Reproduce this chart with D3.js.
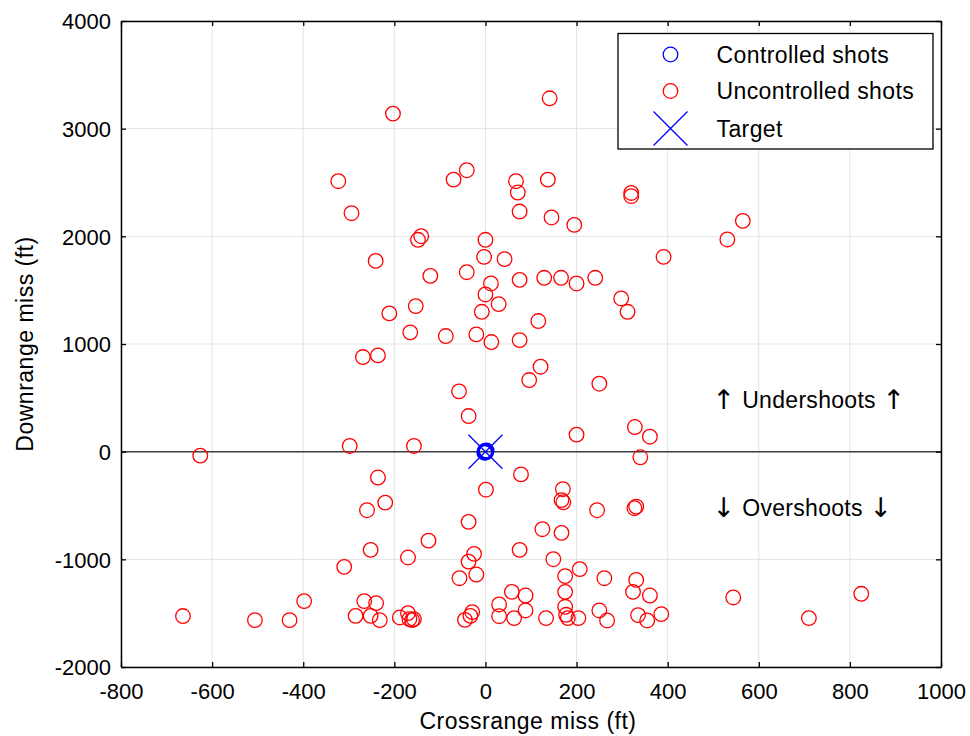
<!DOCTYPE html>
<html>
<head>
<meta charset="utf-8">
<script src="https://cdn.jsdelivr.net/npm/d3@7"></script>
<style>
  html, body { margin: 0; padding: 0; background: #fff; }
  svg { display: block; font-family: "Liberation Sans", Arial, sans-serif; }
</style>
</head>
<body>
<svg id="chart" width="970" height="736"></svg>
<script>
// ---- Data ----
const xTicks = [-800, -600, -400, -200, 0, 200, 400, 600, 800, 1000];
const yTicks = [-2000, -1000, 0, 1000, 2000, 3000, 4000];

const controlledX = [0, 2, -2, 1, -1];
const controlledY = [0, 8, -8, -5, 5];

const targetX = [0];
const targetY = [0];

const uncontrolledX = [
  -203, 141, -323, -294, -70, -41, 67, 71, 137, 75,
  145, 195, -148, -141, 0, 320, 320, 565, 531, -241,
  -121, -153, -211, -165, -269, -236, -626, -298, -157, -236,
  -3, 42, -41, 12, 0, 75, 129, 166, 200, 241,
  298, 312, 391, 29, -8, 116, -87, -20, 13, 75,
  121, 96, 250, -58, -37, 200, 328, 361, 340, 78,
  -220, -260, -125, -252, -170, -310, -398, -266, -240, -664,
  -506, -430, -285, -252, -232, -188, -170, -167, -161, -157,
  1, 170, 167, 171, 245, 331, 327, -37, 125, 167,
  75, 149, -25, -37, 207, -20, -57, 175, 261, 331,
  175, 58, 324, 361, 88, 30, -29, -33, -45, 88,
  175, 250, 30, 63, 133, 181, 177, 204, 267, 335,
  355, 386, 544, 710, 825
];
const uncontrolledY = [
  3140, 3282, 2512, 2215, 2527, 2614, 2512, 2407, 2527, 2230,
  2175, 2106, 1968, 2001, 1968, 2403, 2373, 2144, 1971, 1772,
  1633, 1352, 1284, 1108, 879, 894, -37, 53, 53, -240,
  1809, 1788, 1667, 1562, 1460, 1596, 1615, 1615, 1562, 1615,
  1423, 1299, 1809, 1370, 1299, 1213, 1074, 1089, 1018, 1036,
  789, 665, 631, 560, 331, 158, 229, 139, -52, -211,
  -473, -544, -826, -912, -983, -1070, -1388, -1388, -1407, -1527,
  -1565, -1565, -1525, -1525, -1565, -1540, -1500, -1555, -1565, -1555,
  -353, -349, -450, -470, -544, -510, -525, -652, -720, -754,
  -912, -999, -949, -1021, -1091, -1141, -1175, -1156, -1175, -1191,
  -1302, -1302, -1302, -1336, -1336, -1419, -1490, -1525, -1562, -1475,
  -1441, -1475, -1528, -1546, -1546, -1546, -1515, -1546, -1568, -1518,
  -1568, -1509, -1354, -1546, -1320
];

const legendLabels = ["Controlled shots", "Uncontrolled shots", "Target"];
const annotations = [
  { x: 503, y: 405, arrow: "\u2191", word: "Undershoots" },
  { x: 503, y: -594, arrow: "\u2193", word: "Overshoots" }
];

// ---- Layout ----
const L = 121, R = 941, T = 21, B = 667;
const svg = d3.select("#chart");
const x = d3.scaleLinear().domain([-800, 1000]).range([L, R]);
const y = d3.scaleLinear().domain([-2000, 4000]).range([B, T]);
const fmt = d => String(d);

// grid
const g = svg.append("g");
g.selectAll("line.gx").data(xTicks).join("line")
  .attr("x1", d => x(d)).attr("x2", d => x(d)).attr("y1", T).attr("y2", B)
  .attr("stroke", "#e3e3e3").attr("stroke-width", 1);
g.selectAll("line.gy").data(yTicks).join("line")
  .attr("y1", d => y(d)).attr("y2", d => y(d)).attr("x1", L).attr("x2", R)
  .attr("stroke", "#e3e3e3").attr("stroke-width", 1);

// zero line
svg.append("line")
  .attr("x1", L).attr("x2", R).attr("y1", y(0)).attr("y2", y(0))
  .attr("stroke", "#404040").attr("stroke-width", 1.5);

// axes (ticks inward)
const fs = "22px";
const axB = svg.append("g").attr("transform", `translate(0,${B})`)
  .call(d3.axisBottom(x).tickValues(xTicks).tickFormat(fmt).tickSizeInner(-5).tickSizeOuter(0));
const axT = svg.append("g").attr("transform", `translate(0,${T})`)
  .call(d3.axisTop(x).tickValues(xTicks).tickSizeInner(-5).tickSizeOuter(0).tickFormat(""));
const axLf = svg.append("g").attr("transform", `translate(${L},0)`)
  .call(d3.axisLeft(y).tickValues(yTicks).tickFormat(fmt).tickSizeInner(-5).tickSizeOuter(0).tickPadding(10));
const axRt = svg.append("g").attr("transform", `translate(${R},0)`)
  .call(d3.axisRight(y).tickValues(yTicks).tickSizeInner(-5).tickSizeOuter(0).tickFormat(""));
[axB, axT, axLf, axRt].forEach(a => {
  a.select(".domain").attr("stroke", "#000").attr("stroke-width", 1.5);
  a.selectAll(".tick line").attr("stroke", "#000").attr("stroke-width", 1.3);
  a.selectAll("text").attr("fill", "#000").style("font-size", fs)
    .style("font-family", "'Liberation Sans', Arial, sans-serif");
});
axB.selectAll("text").attr("dy", "0.71em").attr("y", 16);
axLf.selectAll("text").attr("dy", "0.36em");

// axis labels
svg.append("text").attr("x", (L + R) / 2 - 3).attr("y", 729)
  .attr("text-anchor", "middle").style("font-size", "23px").style("letter-spacing", "0.5px")
  .text("Crossrange miss (ft)");
svg.append("text").attr("transform", `translate(33,${(T + B) / 2}) rotate(-90)`)
  .attr("text-anchor", "middle").style("font-size", "23px").style("letter-spacing", "0.5px")
  .text("Downrange miss (ft)");

// annotations
const ann = svg.selectAll("text.ann").data(annotations).join("text")
  .attr("x", d => x(d.x) - 2).attr("y", d => y(d.y))
  .attr("fill", "#000")
  .style("font-size", "23px").style("letter-spacing", "0.3px");
ann.append("tspan").style("font-family", "'DejaVu Sans', sans-serif").style("font-size", "27px")
  .attr("fill", "#000").attr("dy", 1).text(d => d.arrow);
ann.append("tspan").attr("dy", -1).text(d => "\u00a0" + d.word + "\u00a0");
ann.append("tspan").style("font-family", "'DejaVu Sans', sans-serif").style("font-size", "27px")
  .attr("fill", "#000").attr("dy", 1).text(d => d.arrow);

// points
const unc = uncontrolledX.map((v, i) => [v, uncontrolledY[i]]);
svg.append("g").selectAll("circle").data(unc).join("circle")
  .attr("cx", d => x(d[0])).attr("cy", d => y(d[1])).attr("r", 7.3)
  .attr("fill", "none").attr("stroke", "#ff0000").attr("stroke-width", 1.3);

const ctl = controlledX.map((v, i) => [v, controlledY[i]]);
svg.append("g").selectAll("circle").data(ctl).join("circle")
  .attr("cx", d => x(d[0])).attr("cy", d => y(d[1])).attr("r", 7.3)
  .attr("fill", "none").attr("stroke", "#0000ff").attr("stroke-width", 1.8);

const tgt = targetX.map((v, i) => [v, targetY[i]]);
const xSize = 17;
const tg = svg.append("g").selectAll("g").data(tgt).join("g")
  .attr("transform", d => `translate(${x(d[0])},${y(d[1])})`);
tg.append("line").attr("x1", -xSize).attr("y1", -xSize).attr("x2", xSize).attr("y2", xSize)
  .attr("stroke", "#0000ff").attr("stroke-width", 1.3);
tg.append("line").attr("x1", -xSize).attr("y1", xSize).attr("x2", xSize).attr("y2", -xSize)
  .attr("stroke", "#0000ff").attr("stroke-width", 1.3);

// legend
const lg = svg.append("g");
lg.append("rect").attr("x", 618).attr("y", 33.5).attr("width", 315).attr("height", 115.5)
  .attr("fill", "#fff").attr("stroke", "#000").attr("stroke-width", 1.3);
const rowY = [54.5, 91, 128.5];
const symX = 670.5, txtX = 716.5;
lg.append("circle").attr("cx", symX).attr("cy", rowY[0]).attr("r", 7.3)
  .attr("fill", "none").attr("stroke", "#0000ff").attr("stroke-width", 1.3);
lg.append("circle").attr("cx", symX).attr("cy", rowY[1]).attr("r", 7.3)
  .attr("fill", "none").attr("stroke", "#ff0000").attr("stroke-width", 1.3);
lg.append("line").attr("x1", symX - xSize).attr("y1", rowY[2] - xSize).attr("x2", symX + xSize).attr("y2", rowY[2] + xSize)
  .attr("stroke", "#0000ff").attr("stroke-width", 1.3);
lg.append("line").attr("x1", symX - xSize).attr("y1", rowY[2] + xSize).attr("x2", symX + xSize).attr("y2", rowY[2] - xSize)
  .attr("stroke", "#0000ff").attr("stroke-width", 1.3);
lg.selectAll("text").data(legendLabels).join("text")
  .attr("x", txtX).attr("y", (d, i) => rowY[i]).attr("dy", "0.36em")
  .style("font-size", "23px").style("letter-spacing", "0.4px")
  .text(d => d);
</script>
</body>
</html>
